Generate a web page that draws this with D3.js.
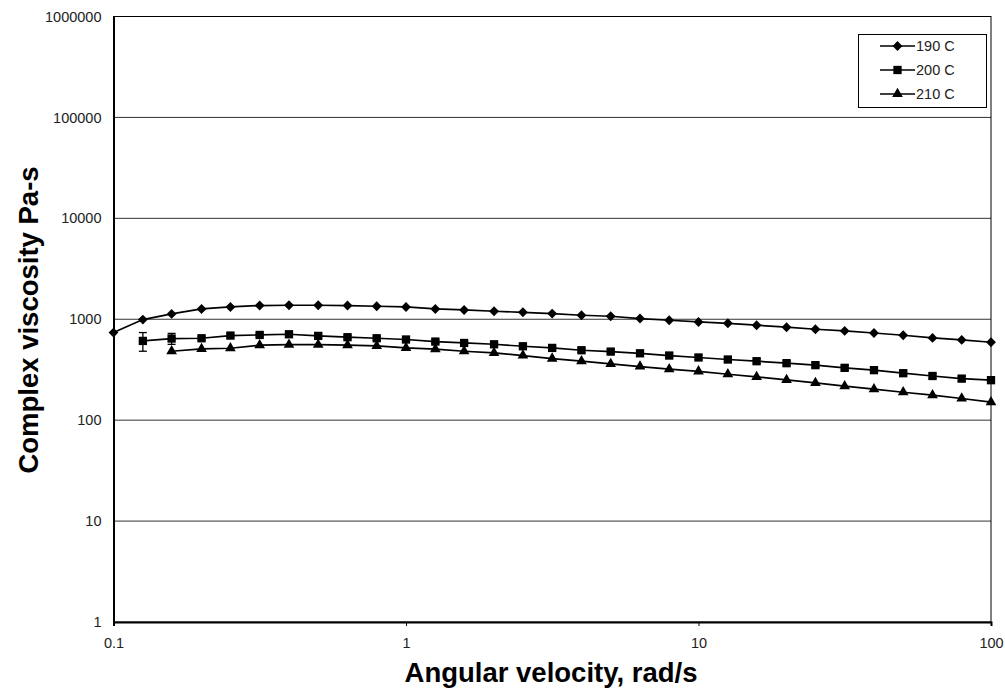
<!DOCTYPE html>
<html>
<head>
<meta charset="utf-8">
<script src="https://cdn.jsdelivr.net/npm/d3@7"></script>
<style>
  html, body { margin: 0; padding: 0; background: #fff; }
  svg { display: block; font-family: "Liberation Sans", Arial, sans-serif; }
</style>
</head>
<body>
<svg id="chart" width="1005" height="690"></svg>
<script>
// Angular velocity sweep, 5 points per decade (rad/s)
const omega = [0.1, 0.126, 0.158, 0.2, 0.251, 0.316, 0.398, 0.501, 0.631, 0.794,
               1, 1.26, 1.58, 2, 2.51, 3.16, 3.98, 5.01, 6.31, 7.94,
               10, 12.6, 15.8, 20, 25.1, 31.6, 39.8, 50.1, 63.1, 79.4, 100];

// Complex viscosity (Pa-s); null where no measurement
const visc190 = [738, 993, 1129, 1265, 1324, 1367, 1376, 1376, 1367, 1345,
                 1324, 1265, 1236, 1200, 1172, 1137, 1096, 1071, 1016, 977,
                 940, 912, 873, 834, 796, 766, 731, 694, 653, 624, 592];
const visc200 = [null, 610, 644, 648, 689, 699, 710, 684, 664, 648,
                 630, 601, 582, 565, 540, 520, 493, 478, 460, 437,
                 418, 399, 384, 367, 351, 330, 313, 292, 274, 258, 249];
const err200  = [null, 128, 80, 30, 30, 30, 30, 30, 28, 28,
                 28, 27, 26, 25, 25, 24, 23, 22, 22, 21,
                 20, 19, 19, 18, 18, 17, 16, 16, 15, 15, 15];
const visc210 = [null, null, 482, 508, 516, 553, 561, 561, 553, 544,
                 520, 505, 482, 464, 437, 408, 384, 361, 340, 320,
                 305, 285, 268, 251, 234, 217, 203, 189, 177, 164, 151];

const seriesNames = ["190 C", "200 C", "210 C"];
const yTicks = [1, 10, 100, 1000, 10000, 100000, 1000000];
const xTicks = [0.1, 1, 10, 100];

const svg = d3.select("#chart");
const plotLeft = 113.5, plotRight = 991, plotTop = 16.5, plotBottom = 622;

const x = d3.scaleLog().domain([0.1, 100]).range([plotLeft, plotRight]);
const y = d3.scaleLog().domain([1, 1000000]).range([plotBottom, plotTop]);

// Horizontal gridlines at each decade
svg.append("g")
  .selectAll("line")
  .data(yTicks.slice(1, -1))
  .join("line")
  .attr("x1", plotLeft).attr("x2", plotRight)
  .attr("y1", d => y(d)).attr("y2", d => y(d))
  .attr("stroke", "#333").attr("stroke-width", 1);

// Plot frame
svg.append("rect")
  .attr("x", plotLeft).attr("y", plotTop)
  .attr("width", plotRight - plotLeft).attr("height", plotBottom - plotTop)
  .attr("fill", "none").attr("stroke", "#000").attr("stroke-width", 1);

// Axes
const xAxis = svg.append("g")
  .attr("transform", `translate(0,${plotBottom})`)
  .call(d3.axisBottom(x).tickValues(xTicks).tickFormat(d => String(d)).tickSize(4).tickPadding(12));
const yAxis = svg.append("g")
  .attr("transform", `translate(${plotLeft},0)`)
  .call(d3.axisLeft(y).tickValues(yTicks).tickFormat(d => String(d)).tickSize(0).tickPadding(12));
[xAxis, yAxis].forEach(g => {
  g.attr("font-size", null).attr("font-family", null);
  g.select(".domain").attr("stroke", "#000").attr("stroke-width", 2);
  g.selectAll("text").style("font-size", "14.5px").attr("fill", "#222");
  g.selectAll(".tick line").attr("stroke", "#000");
});

// Axis titles
svg.append("text")
  .attr("x", 551).attr("y", 682)
  .attr("text-anchor", "middle")
  .style("font-size", "27.5px").attr("font-weight", "bold")
  .text("Angular velocity, rad/s");
svg.append("text")
  .attr("transform", "translate(38,320) rotate(-90)")
  .attr("text-anchor", "middle")
  .style("font-size", "27.5px").attr("font-weight", "bold")
  .text("Complex viscosity Pa-s");

const symbols = [d3.symbolDiamond2, d3.symbolSquare2, d3.symbolTriangle2];
const symSizes = [62, 88, 82];
const data = [visc190, visc200, visc210];

const line = d3.line()
  .defined(d => d.v != null)
  .x(d => x(d.w)).y(d => y(d.v));

// Error bars for the 200 C series
const errPts = omega.map((w, i) => ({ w, v: visc200[i], e: err200[i] }))
  .filter(d => d.v != null && d.e != null);
const eb = svg.append("g").attr("stroke", "#000").attr("stroke-width", 1.3);
errPts.forEach(d => {
  const cx = x(d.w), y1 = y(d.v + d.e), y2 = y(d.v - d.e);
  eb.append("line").attr("x1", cx).attr("x2", cx).attr("y1", y1).attr("y2", y2);
  eb.append("line").attr("x1", cx - 4).attr("x2", cx + 4).attr("y1", y1).attr("y2", y1);
  eb.append("line").attr("x1", cx - 4).attr("x2", cx + 4).attr("y1", y2).attr("y2", y2);
});

data.forEach((vals, k) => {
  const pts = omega.map((w, i) => ({ w, v: vals[i] })).filter(d => d.v != null);
  svg.append("path").datum(pts)
    .attr("d", line).attr("fill", "none")
    .attr("stroke", "#000").attr("stroke-width", 1.7);
  const sym = d3.symbol().type(symbols[k]).size(symSizes[k]);
  svg.append("g").selectAll("path")
    .data(pts).join("path")
    .attr("transform", d => `translate(${x(d.w)},${y(d.v)})`)
    .attr("d", sym).attr("fill", "#000");
});

// Legend
const lg = svg.append("g");
lg.append("rect")
  .attr("x", 858.5).attr("y", 34.5).attr("width", 128).attr("height", 73)
  .attr("fill", "#fff").attr("stroke", "#000").attr("stroke-width", 1);
seriesNames.forEach((name, k) => {
  const ly = 46 + k * 24;
  lg.append("line").attr("x1", 880).attr("x2", 915).attr("y1", ly).attr("y2", ly)
    .attr("stroke", "#000").attr("stroke-width", 1.7);
  lg.append("path")
    .attr("transform", `translate(897.5,${ly})`)
    .attr("d", d3.symbol().type(symbols[k]).size(symSizes[k])())
    .attr("fill", "#000");
  lg.append("text").attr("x", 916).attr("y", ly + 5)
    .style("font-size", "14.5px").attr("fill", "#222").text(name);
});
</script>
</body>
</html>
